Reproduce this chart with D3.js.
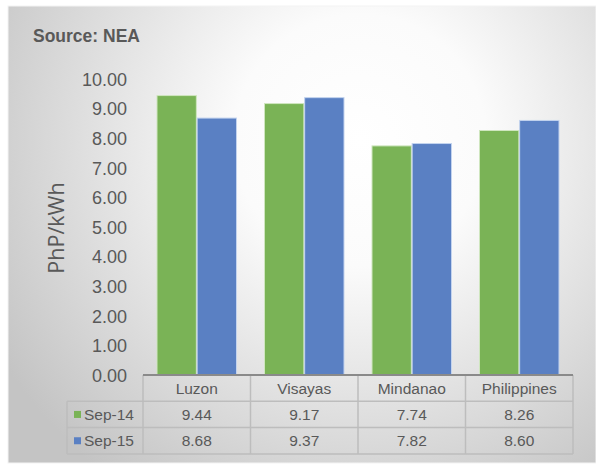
<!DOCTYPE html>
<html><head><meta charset="utf-8">
<script src="https://cdn.jsdelivr.net/npm/d3@7"></script>
<style>body{margin:0;background:#fff}svg{display:block}</style>
</head><body>
<script>
const categories = ["Luzon", "Visayas", "Mindanao", "Philippines"];
const seriesNames = ["Sep-14", "Sep-15"];
const sep14 = [9.44, 9.17, 7.74, 8.26];
const sep15 = [8.68, 9.37, 7.82, 8.60];
const yTicks = [0, 1, 2, 3, 4, 5, 6, 7, 8, 9, 10];
const colors = ["#7ab356", "#5a80c3"];
const edgeColors = ["#cfe6bf", "#c3d3ee"];

const W = 596, H = 464;
const svg = d3.select("body").append("svg").attr("width", W).attr("height", H);
const defs = svg.append("defs");
const g = defs.append("radialGradient").attr("id", "bg")
  .attr("gradientUnits", "userSpaceOnUse")
  .attr("cx", 360).attr("cy", 140).attr("r", 420);
g.append("stop").attr("offset", "0").attr("stop-color", "#ffffff");
g.append("stop").attr("offset", "0.3").attr("stop-color", "#fbfbfb");
g.append("stop").attr("offset", "1").attr("stop-color", "#c4c4c4");

svg.append("rect").attr("x", 8).attr("y", 6).attr("width", W - 8).attr("height", 457)
  .attr("fill", "url(#bg)").attr("stroke", "#f4f4f4").attr("stroke-width", 1);

const font = "Liberation Sans, Arial, sans-serif";
const textColor = "#595959";

svg.append("text").attr("x", 33).attr("y", 42).text("Source: NEA")
  .attr("font-family", font).attr("font-weight", "bold").attr("font-size", 17.5)
  .attr("fill", textColor);

const x0 = d3.scaleBand().domain(categories).range([143, 573]).paddingInner(0).paddingOuter(0);
const x1 = d3.scaleBand().domain(seriesNames).range([14, x0.bandwidth() - 14]).paddingInner(0.02);
const y = d3.scaleLinear().domain([0, 10]).range([375, 79]);

// y axis
const yAxis = d3.axisLeft(y).tickValues(yTicks).tickFormat(d3.format(".2f")).tickSize(0).tickPadding(0);
const ya = svg.append("g").attr("transform", "translate(127,0)").call(yAxis);
ya.select(".domain").remove();
ya.selectAll("text").attr("font-family", font).attr("font-size", 18).attr("fill", textColor)
  .attr("dy", "0.35em");

svg.append("text").attr("transform", "translate(64,228) rotate(-90)")
  .attr("text-anchor", "middle").text("PhP/kWh")
  .attr("font-family", "Open Sans, sans-serif").attr("font-size", 21.5).attr("fill", textColor);

// bars
const data = categories.map((c, i) => ({ c, vals: [sep14[i], sep15[i]] }));
const grp = svg.append("g");
data.forEach(d => {
  d.vals.forEach((v, j) => {
    grp.append("rect")
      .attr("x", x0(d.c) + x1(seriesNames[j]))
      .attr("y", y(v))
      .attr("width", x1.bandwidth())
      .attr("height", y(0) - y(v))
      .attr("fill", colors[j])
      .attr("stroke", edgeColors[j]).attr("stroke-width", 1);
  });
});

// data table
const rowTop = 375, rowH = 26.3;
const legendLeft = 67;
const lines = svg.append("g").attr("stroke", "#bdbdbd").attr("stroke-width", 1.5).attr("fill", "none");
lines.append("line").attr("x1", legendLeft).attr("x2", 573).attr("y1", rowTop + rowH).attr("y2", rowTop + rowH);
lines.append("line").attr("x1", legendLeft).attr("x2", 573).attr("y1", rowTop + 2 * rowH).attr("y2", rowTop + 2 * rowH);
lines.append("line").attr("x1", legendLeft).attr("x2", 573).attr("y1", rowTop + 3 * rowH).attr("y2", rowTop + 3 * rowH);
lines.append("line").attr("x1", legendLeft).attr("x2", legendLeft).attr("y1", rowTop + rowH).attr("y2", rowTop + 3 * rowH);
categories.forEach(c => {
  lines.append("line").attr("x1", x0(c)).attr("x2", x0(c)).attr("y1", rowTop).attr("y2", rowTop + 3 * rowH);
});
lines.append("line").attr("x1", 573).attr("x2", 573).attr("y1", rowTop).attr("y2", rowTop + 3 * rowH);
svg.append("line").attr("x1", 143).attr("x2", 573).attr("y1", rowTop).attr("y2", rowTop)
  .attr("stroke", "#8a8a8a").attr("stroke-width", 2);

const tfont = 15.5;
categories.forEach((c, i) => {
  const cx = x0(c) + x0.bandwidth() / 2;
  svg.append("text").attr("x", cx).attr("y", rowTop + rowH / 2).attr("dy", "0.36em")
    .attr("text-anchor", "middle").text(c)
    .attr("font-family", font).attr("font-size", tfont).attr("fill", textColor);
  [sep14, sep15].forEach((arr, j) => {
    svg.append("text").attr("x", cx).attr("y", rowTop + rowH * (j + 1) + rowH / 2).attr("dy", "0.36em")
      .attr("text-anchor", "middle").text(arr[i].toFixed(2))
      .attr("font-family", font).attr("font-size", tfont).attr("fill", textColor);
  });
});
seriesNames.forEach((s, j) => {
  const cy = rowTop + rowH * (j + 1) + rowH / 2;
  svg.append("rect").attr("x", 74).attr("y", cy - 3.5).attr("width", 7).attr("height", 7)
    .attr("fill", colors[j]);
  svg.append("text").attr("x", 84).attr("y", cy).attr("dy", "0.36em").text(s)
    .attr("font-family", font).attr("font-size", tfont).attr("fill", textColor);
});
</script>
</body></html>
